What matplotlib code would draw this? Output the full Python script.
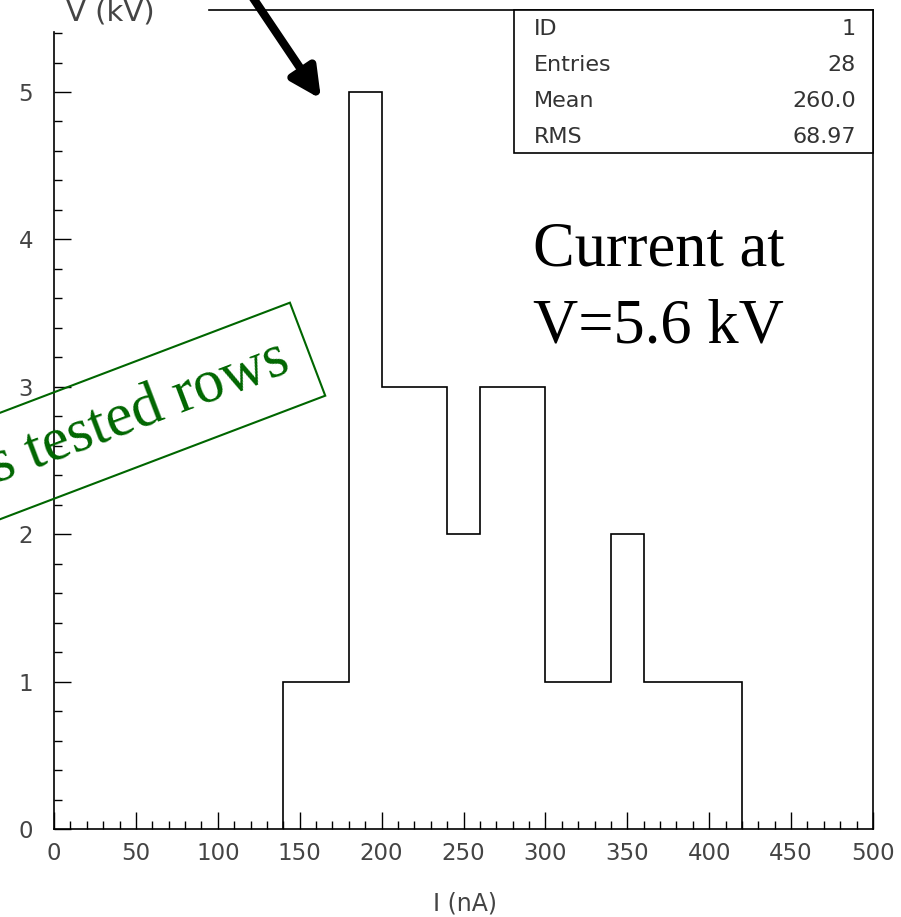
import numpy as np
import matplotlib.pyplot as plt
from matplotlib.patches import FancyArrowPatch
from matplotlib.ticker import MultipleLocator

# histogram of currents, 20 nA bins
edges = np.arange(140, 440, 20)
counts = [1, 1, 5, 3, 3, 2, 3, 3, 1, 1, 2, 1, 1, 1]
x_ticks = np.arange(0, 550, 50)
y_ticks = [0, 1, 2, 3, 4, 5]
stats_names = ["ID", "Entries", "Mean", "RMS"]
stats_values = ["1", "28", "260.0", "68.97"]

W, H = 901, 917
fig = plt.figure(figsize=(W / 100, H / 100), dpi=100)

def fx(px):
    return px / W

def fy(py):
    return 1 - py / H

ymax = (829 - 10) / 147.4
ax = fig.add_axes([fx(54), fy(829), fx(873) - fx(54), fy(10) - fy(829)])
ax.stairs(counts, edges, color="black", lw=1.2)
ax.set_xlim(0, 500)
ax.set_ylim(0, ymax)

for s in ax.spines.values():
    s.set_linewidth(1.2)
ax.spines["left"].set_bounds(0, 5.41)
ax.spines["top"].set_bounds((209 - 54) / 819 * 500, 500)

lab = "#444444"
ax.set_xticks(x_ticks)
ax.set_yticks(y_ticks)
ax.xaxis.set_minor_locator(MultipleLocator(10))
ax.set_yticks(np.arange(0, 5.5, 0.2), minor=True)
ax.tick_params(which="both", direction="in", top=False, right=False,
               width=1.0, color="black", labelcolor=lab, labelsize=16.5)
ax.tick_params(which="major", length=12)
ax.tick_params(which="minor", length=5.8)
ax.tick_params(axis="x", which="major", pad=9)
ax.tick_params(axis="y", which="major", pad=15)

fig.text(fx(465), fy(903), "I (nA)", ha="center", va="center",
         fontsize=17, color=lab)
fig.text(fx(110), fy(21), "V (kV)", ha="center", va="baseline",
         fontsize=21, color=lab)

# stats box
box = plt.Rectangle((fx(514), fy(153)), fx(873) - fx(514), fy(10) - fy(153),
                    transform=fig.transFigure, fc="white", ec="black", lw=1.2)
fig.add_artist(box)
for i, (n, v) in enumerate(zip(stats_names, stats_values)):
    yy = fy(29 + 36 * i)
    fig.text(fx(534), yy, n, ha="left", va="center", fontsize=16, color="#333333")
    fig.text(fx(856), yy, v, ha="right", va="center", fontsize=16, color="#333333")

# annotation text
serif = "Liberation Serif"
fig.text(fx(533), fy(265), "Current at", ha="left", va="baseline",
         fontsize=45, family=serif, color="black")
fig.text(fx(533), fy(342), "V=5.6 kV", ha="left", va="baseline",
         fontsize=45, family=serif, color="black")

fig.text(fx(287), fy(357), "s tested rows", ha="right", va="center",
         rotation=20.8, rotation_mode="anchor", fontsize=44, family=serif,
         color="#006600",
         bbox=dict(boxstyle="square,pad=0.36", fc="none", ec="#006600", lw=1.5))

arrow = FancyArrowPatch((fx(249), fy(-8)), (fx(321), fy(99)),
                        transform=fig.transFigure, arrowstyle="-|>",
                        mutation_scale=45, lw=6, color="black",
                        shrinkA=0, shrinkB=0)
fig.add_artist(arrow)

fig.savefig("out.png", dpi=100)
